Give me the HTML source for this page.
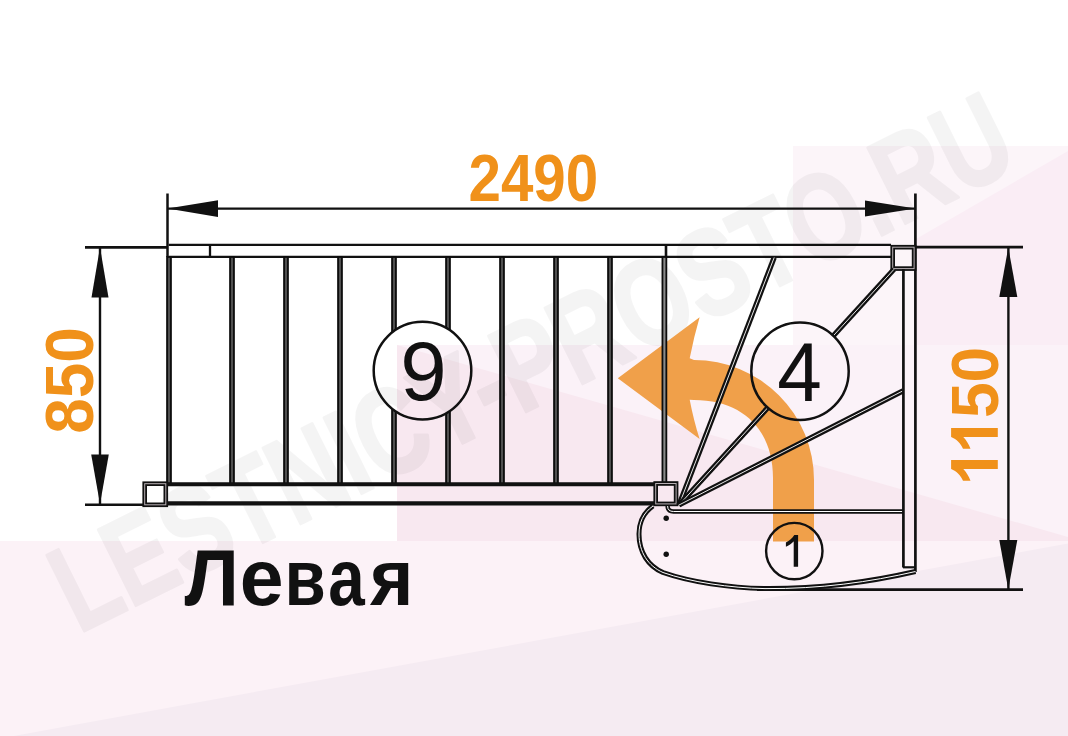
<!DOCTYPE html>
<html><head><meta charset="utf-8"><style>
html,body{margin:0;padding:0;background:#fff;}
svg{display:block;font-family:"Liberation Sans",sans-serif;}
</style></head><body>
<svg width="1068" height="736" viewBox="0 0 1068 736">
<defs><mask id="cm" maskUnits="userSpaceOnUse" x="0" y="0" width="1068" height="736">
<rect x="0" y="0" width="1068" height="736" fill="#fff"/>
<circle cx="422.5" cy="370.6" r="48.8" fill="#000"/>
<circle cx="800" cy="371.2" r="48.7" fill="#000"/>
</mask></defs><rect x="0" y="0" width="1068" height="736" fill="#ffffff"/>
<rect x="793" y="146" width="275" height="199" fill="#fcf5f9"/>
<polygon points="1068,151 916,239 916,345 1068,345" fill="#faedf5"/>
<rect x="397" y="345" width="671" height="196" fill="#fbf2f8"/>
<polygon points="397,345 1068,537 1068,541 397,541" fill="#f8e8f0"/>
<rect x="0" y="541" width="1068" height="195" fill="#fcf2f7"/>
<polygon points="0,738.5 1068,543.5 1068,736 0,736" fill="#f5ebf2"/>
<g opacity="0.04"><text x="0" y="0" transform="translate(78.4,634.1) rotate(-26.4) scale(0.768,1)" font-family="Liberation Sans" font-weight="bold" font-size="123" fill="#000" stroke="#000" stroke-width="3" stroke-linejoin="round">LESTNICY-PROSTO.RU</text></g>
<path d="M617.8,378.3 L699.6,317.2 Q693.8,337 689.7,358.3 L694,360 A120,120 0 0 1 814,480 L814,541.6 L773,541.6 L773,478 C773,432 745,400 694,400 L689.7,399.8 Q693.8,421 699.6,439 Z" fill="#f0a04a"/>
<g mask="url(#cm)">
<line x1="168" y1="208.6" x2="915" y2="208.6" stroke="#111111" stroke-width="2.2" stroke-linecap="butt"/>
<polygon points="167.5,208.6 218,200.3 218,216.9" fill="#111111"/>
<polygon points="915.5,208.6 865,200.6 865,216.6" fill="#111111"/>
<line x1="167.5" y1="193.5" x2="167.5" y2="257" stroke="#111111" stroke-width="2.5" stroke-linecap="butt"/>
<line x1="915.4" y1="193.5" x2="915.4" y2="572" stroke="#111111" stroke-width="2.7" stroke-linecap="butt"/>
<line x1="100" y1="247.3" x2="100" y2="504.5" stroke="#111111" stroke-width="2.4" stroke-linecap="butt"/>
<polygon points="100,247.3 91.5,297.5 108.5,297.5" fill="#111111"/>
<polygon points="100,504 91.2,454.6 108.8,454.6" fill="#111111"/>
<line x1="85" y1="247.4" x2="167" y2="247.4" stroke="#111111" stroke-width="2.6" stroke-linecap="butt"/>
<line x1="85" y1="504.7" x2="143" y2="504.7" stroke="#111111" stroke-width="2.6" stroke-linecap="butt"/>
<line x1="1008.4" y1="247.3" x2="1008.4" y2="590" stroke="#111111" stroke-width="2.4" stroke-linecap="butt"/>
<polygon points="1008.3,247.5 999.3,297 1017.3,297" fill="#111111"/>
<polygon points="1008.3,589.6 999.3,540 1017.3,540" fill="#111111"/>
<line x1="916" y1="247.1" x2="1023" y2="247.1" stroke="#111111" stroke-width="2.6" stroke-linecap="butt"/>
<line x1="757" y1="589.6" x2="1023" y2="589.6" stroke="#111111" stroke-width="2.6" stroke-linecap="butt"/>
<line x1="168.7" y1="244.9" x2="891" y2="244.9" stroke="#111111" stroke-width="2.4" stroke-linecap="butt"/>
<line x1="168.7" y1="256.9" x2="891" y2="256.9" stroke="#111111" stroke-width="2.3" stroke-linecap="butt"/>
<line x1="210" y1="245" x2="210" y2="257" stroke="#111111" stroke-width="2.3" stroke-linecap="butt"/>
<line x1="666" y1="245" x2="666" y2="257" stroke="#111111" stroke-width="2.6" stroke-linecap="butt"/>
<rect x="167.05" y="257" width="3.9" height="227" fill="#505050" stroke="#0c0c0c" stroke-width="1.8"/>
<rect x="230.05" y="257" width="3.9" height="227" fill="#505050" stroke="#0c0c0c" stroke-width="1.8"/>
<rect x="284.05" y="257" width="3.9" height="227" fill="#505050" stroke="#0c0c0c" stroke-width="1.8"/>
<rect x="338.05" y="257" width="3.9" height="227" fill="#505050" stroke="#0c0c0c" stroke-width="1.8"/>
<rect x="392.05" y="257" width="3.9" height="227" fill="#505050" stroke="#0c0c0c" stroke-width="1.8"/>
<rect x="446.05" y="257" width="3.9" height="227" fill="#505050" stroke="#0c0c0c" stroke-width="1.8"/>
<rect x="500.05" y="257" width="3.9" height="227" fill="#505050" stroke="#0c0c0c" stroke-width="1.8"/>
<rect x="554.05" y="257" width="3.9" height="227" fill="#505050" stroke="#0c0c0c" stroke-width="1.8"/>
<rect x="608.05" y="257" width="3.9" height="227" fill="#505050" stroke="#0c0c0c" stroke-width="1.8"/>
<rect x="662.45" y="257" width="3.9" height="227" fill="#8a8a8a" stroke="#0c0c0c" stroke-width="1.8"/>
<line x1="167" y1="484.2" x2="655" y2="484.2" stroke="#111111" stroke-width="4.0" stroke-linecap="butt"/>
<line x1="167" y1="503.3" x2="655" y2="503.3" stroke="#111111" stroke-width="4.2" stroke-linecap="butt"/>
<rect x="144.7" y="483.7" width="21.1" height="21.1" fill="none" stroke="#111111" stroke-width="4.6"/>
<rect x="144.7" y="483.7" width="21.1" height="21.1" fill="none" stroke="#b8b0b4" stroke-width="1.0"/>
<rect x="655.7" y="483.5" width="20.4" height="20.4" fill="none" stroke="#111111" stroke-width="4.6"/>
<rect x="655.7" y="483.5" width="20.4" height="20.4" fill="none" stroke="#b8b0b4" stroke-width="1.0"/>
<rect x="892.7" y="247.2" width="21.4" height="21.4" fill="none" stroke="#111111" stroke-width="4.6"/>
<rect x="892.7" y="247.2" width="21.4" height="21.4" fill="none" stroke="#b8b0b4" stroke-width="1.0"/>
<line x1="679" y1="505" x2="774.2" y2="257.5" stroke="#111111" stroke-width="5.3" stroke-linecap="butt"/>
<line x1="679" y1="505" x2="774.2" y2="257.5" stroke="#ffffff" stroke-width="0.9" stroke-linecap="butt"/>
<line x1="679" y1="505" x2="894" y2="269.3" stroke="#111111" stroke-width="5.3" stroke-linecap="butt"/>
<line x1="679" y1="505" x2="894" y2="269.3" stroke="#ffffff" stroke-width="0.9" stroke-linecap="butt"/>
<line x1="679" y1="505" x2="903" y2="390.8" stroke="#111111" stroke-width="5.3" stroke-linecap="butt"/>
<line x1="679" y1="505" x2="903" y2="390.8" stroke="#ffffff" stroke-width="0.9" stroke-linecap="butt"/>
<path d="M667.6,506 Q667.6,511.5 673.5,511.5 L903.3,511.5" fill="none" stroke="#111111" stroke-width="4.4"/>
<path d="M667.6,506 Q667.6,511.5 673.5,511.5 L903.3,511.5" fill="none" stroke="#ffffff" stroke-width="1.0"/>
<line x1="903.4" y1="269" x2="903.4" y2="567.5" stroke="#111111" stroke-width="2.7" stroke-linecap="butt"/>
<line x1="903" y1="567.3" x2="915.5" y2="567.3" stroke="#111111" stroke-width="2.2" stroke-linecap="butt"/>
<path d="M653,506 C643,513 639,523 639,534 C639,552 648,566 663,572.5 C690,582 730,588 765,588.6 C820,589 870,582 915.5,571.5" fill="none" stroke="#111111" stroke-width="5.0"/>
<path d="M653,506 C643,513 639,523 639,534 C639,552 648,566 663,572.5 C690,582 730,588 765,588.6 C820,589 870,582 915.5,571.5" fill="none" stroke="#ffffff" stroke-width="1.0"/>
<circle cx="666.2" cy="518.3" r="2.7" fill="#111111"/>
<circle cx="666.2" cy="554.2" r="2.7" fill="#111111"/>
</g>
<circle cx="422.5" cy="370.6" r="48.8" fill="none" stroke="#111111" stroke-width="2.5"/>
<circle cx="800" cy="371.2" r="48.7" fill="none" stroke="#111111" stroke-width="2.5"/>
<circle cx="794.3" cy="551.1" r="28.2" fill="none" stroke="#111111" stroke-width="2.4"/>
<text x="423.6" y="400.4" font-family="Liberation Sans" font-size="83.5" text-anchor="middle" fill="#111111">9</text>
<text x="0" y="0" transform="translate(799.5,400.6) scale(0.96,1)" font-family="Liberation Sans" font-size="83.5" text-anchor="middle" fill="#111111">4</text>
<path d="M798.1,534.9 L798.1,566.8 L793.7,566.8 L793.7,541.3 C791.6,543.6 788.7,545.5 785.9,546.8 L785.9,542.4 C789.4,540.7 792.4,538 794.3,534.9 Z" fill="#111111"/>
<text x="0" y="0" transform="translate(533.3,201) scale(0.87,1)" font-family="Liberation Sans" font-weight="bold" font-size="67" text-anchor="middle" fill="#f0911a">2490</text>
<text x="0" y="0" transform="translate(93,380.4) rotate(-90) scale(0.94,1)" font-family="Liberation Sans" font-weight="bold" font-size="68" text-anchor="middle" fill="#f0911a">850</text>
<g transform="translate(997.8,481.4) rotate(-90)" fill="#f0911a"><path transform="translate(21.3,0)" d="M0,0 L0,-46.7 L-8.9,-46.7 C-11,-41 -15.5,-37.2 -20.6,-34.8 L-20.6,-27.3 C-16.5,-28.8 -12,-31.5 -8.9,-34.5 L-8.9,0 Z"/><path transform="translate(53.3,0)" d="M0,0 L0,-46.7 L-8.9,-46.7 C-11,-41 -15.5,-37.2 -20.6,-34.8 L-20.6,-27.3 C-16.5,-28.8 -12,-31.5 -8.9,-34.5 L-8.9,0 Z"/><text x="0" y="0" transform="translate(63.3,0) scale(0.965,1)" font-family="Liberation Sans" font-weight="bold" font-size="66.5">50</text></g>
<text x="0" y="0" transform="translate(211.8,605.2) scale(0.97,1)" font-family="Liberation Sans" font-weight="bold" font-size="80" text-anchor="middle" fill="#111111">Л</text>
<text x="0" y="0" transform="translate(261.7,605.2) scale(0.985,1)" font-family="Liberation Sans" font-weight="bold" font-size="80" text-anchor="middle" fill="#111111">е</text>
<text x="0" y="0" transform="translate(305.1,605.2) scale(0.84,1)" font-family="Liberation Sans" font-weight="bold" font-size="80" text-anchor="middle" fill="#111111">в</text>
<text x="0" y="0" transform="translate(346.5,605.2) scale(0.82,1)" font-family="Liberation Sans" font-weight="bold" font-size="80" text-anchor="middle" fill="#111111">а</text>
<text x="0" y="0" transform="translate(391.7,605.2) scale(0.93,1)" font-family="Liberation Sans" font-weight="bold" font-size="80" text-anchor="middle" fill="#111111">я</text>
</svg>
</body></html>
